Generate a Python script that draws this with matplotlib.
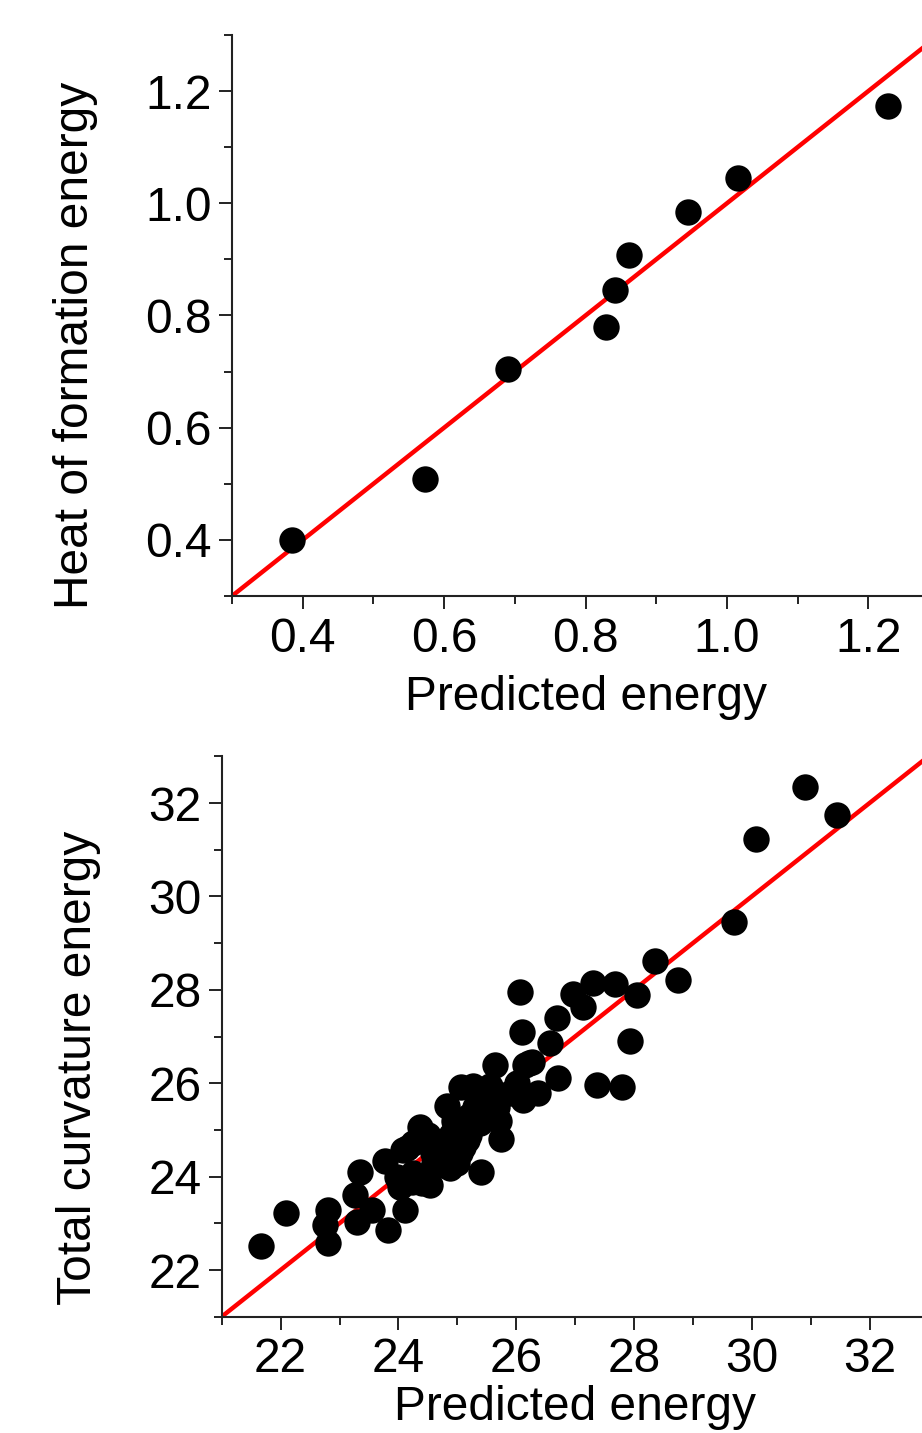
import matplotlib
matplotlib.use("Agg")
import matplotlib.pyplot as plt
from matplotlib.ticker import MultipleLocator, FormatStrFormatter

plt.rcParams['font.family'] = ['Liberation Sans', 'DejaVu Sans']

# ---- Data: top panel (heat of formation) ----
hof_predicted = [0.385, 0.573, 0.690, 0.829, 0.842, 0.862, 0.945, 1.016, 1.228]
hof_actual    = [0.400, 0.508, 0.704, 0.779, 0.845, 0.908, 0.985, 1.045, 1.173]

# ---- Data: bottom panel (total curvature) ----
tc_predicted = [21.66, 22.09, 22.81, 22.75, 22.81, 23.29, 23.26, 23.35, 23.55, 23.83,
                24.11, 23.78, 23.97, 24.14, 24.37, 24.40, 25.41, 25.64, 26.21, 26.71,
                25.07, 24.82, 25.75, 25.56, 26.12, 26.37, 24.08, 24.88, 24.54, 25.10,
                25.39, 24.65, 24.25, 24.03, 26.06, 26.09, 26.97, 27.31, 27.67, 28.05,
                28.36, 28.74, 27.14, 26.69, 26.58, 27.93, 26.26, 27.37, 27.79, 25.27,
                25.56, 26.01, 25.67, 29.70, 30.07, 30.90, 31.45, 25.16, 24.82, 25.05,
                24.59, 24.25, 25.89, 26.15, 24.23, 24.75, 24.95, 25.20,
                24.60, 24.90, 25.20, 25.30, 24.50, 25.00, 25.70]
tc_actual    = [22.52, 23.23, 22.57, 22.96, 23.28, 23.03, 23.61, 24.10, 23.28, 22.86,
                23.28, 24.34, 24.00, 24.61, 25.07, 23.86, 24.09, 26.39, 26.43, 26.12,
                25.91, 25.52, 24.80, 25.71, 25.64, 25.80, 24.57, 24.18, 23.82, 24.64,
                25.14, 24.71, 24.07, 23.78, 27.96, 27.09, 27.91, 28.14, 28.13, 27.89,
                28.62, 28.22, 27.64, 27.40, 26.86, 26.91, 26.46, 25.97, 25.92, 25.93,
                25.93, 26.00, 25.50, 29.46, 31.22, 32.34, 31.74, 24.78, 24.78, 24.50,
                24.50, 24.71, 25.78, 26.39, 23.89, 24.25, 25.20, 25.30,
                24.30, 24.90, 24.90, 25.50, 24.90, 24.30, 25.20]

top_xlim = (0.3, 1.3)
top_ylim = (0.3, 1.3)
top_ticks = [0.4, 0.6, 0.8, 1.0, 1.2]
bot_xlim = (21, 33)
bot_ylim = (21, 33)
bot_ticks = [22, 24, 26, 28, 30, 32]

W, H = 922, 1433
fig = plt.figure(figsize=(W / 100, H / 100), dpi=100)

FS = 34.5
spine_c = '#222222'


def style(ax, major, minor, fmt):
    for s in ['top', 'right']:
        ax.spines[s].set_visible(False)
    for s in ['left', 'bottom']:
        ax.spines[s].set_linewidth(1.5)
        ax.spines[s].set_color(spine_c)
    ax.xaxis.set_major_locator(MultipleLocator(major))
    ax.yaxis.set_major_locator(MultipleLocator(major))
    ax.xaxis.set_minor_locator(MultipleLocator(minor))
    ax.yaxis.set_minor_locator(MultipleLocator(minor))
    ax.xaxis.set_major_formatter(FormatStrFormatter(fmt))
    ax.yaxis.set_major_formatter(FormatStrFormatter(fmt))
    ax.tick_params(which='major', direction='out', length=9.4, width=1.4,
                   color=spine_c, labelsize=FS)
    ax.tick_params(which='minor', direction='out', length=5.8, width=1.4,
                   color=spine_c)
    ax.tick_params(axis='x', which='major', pad=5.5)
    ax.tick_params(axis='y', which='major', pad=5)


# Top panel
ax1 = fig.add_axes([232 / W, (H - 596) / H, 707 / W, 561 / H])
ax1.axline((0.0, 0.0), slope=1, color='#ff0000', lw=3.2, zorder=2)
ax1.plot(hof_predicted, hof_actual, 'o', color='black', ms=19, mec='black',
         mew=0, zorder=3, clip_on=False)
ax1.set_xlim(*top_xlim)
ax1.set_ylim(*top_ylim)
style(ax1, 0.2, 0.1, '%.1f')
ax1.set_xticks(top_ticks)
ax1.set_yticks(top_ticks)
ax1.set_xlabel('Predicted energy', fontsize=FS, va='top')
ax1.xaxis.set_label_coords(0.5, -0.14)
ax1.set_ylabel('Heat of formation energy', fontsize=FS, va='center', ha='center')
ax1.yaxis.set_label_coords(-0.222, 0.446)

# Bottom panel
ax2 = fig.add_axes([221.7 / W, (H - 1316.7) / H, 706.8 / W, 560.4 / H])
ax2.axline((0.0, 0.0), slope=1, color='#ff0000', lw=3.2, zorder=2)
ax2.plot(tc_predicted, tc_actual, 'o', color='black', ms=19, mec='black',
         mew=0, zorder=3, clip_on=False)
ax2.set_xlim(*bot_xlim)
ax2.set_ylim(*bot_ylim)
style(ax2, 2, 1, '%d')
ax2.set_xticks(bot_ticks)
ax2.set_yticks(bot_ticks)
ax2.set_xlabel('Predicted energy', fontsize=FS, va='bottom')
ax2.xaxis.set_label_coords(0.5, -0.203)
ax2.set_ylabel('Total curvature energy', fontsize=FS, va='center', ha='center')
ax2.yaxis.set_label_coords(-0.203, 0.444)

fig.savefig('out.png', dpi=100)
